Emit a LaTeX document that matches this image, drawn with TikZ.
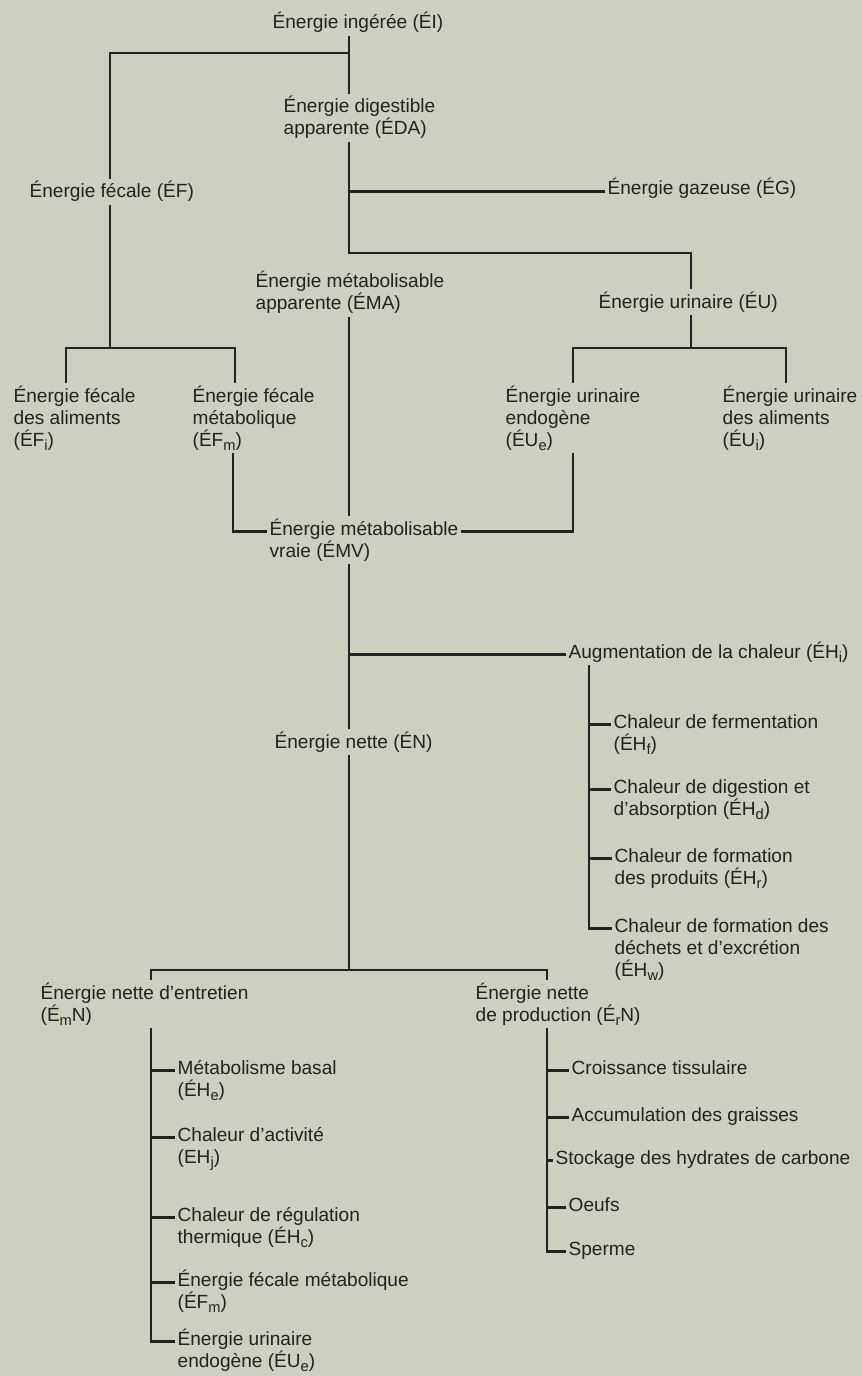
\documentclass[tikz,border=0pt]{standalone}
\usepackage{fontspec}
\setmainfont{Liberation Sans}
\usetikzlibrary{positioning}
\definecolor{paper}{RGB}{206,207,190}
\definecolor{ink}{RGB}{34,34,30}
\newcommand{\lowsub}[1]{\raisebox{-0.45ex}{\fontsize{11}{11}\selectfont #1}}

\begin{document}
\begin{tikzpicture}[x=0.75pt,y=-0.75pt,
  every node/.style={inner sep=0pt,outer sep=2pt,anchor=base west,align=left,
    text=ink,font=\fontsize{14.3}{16.5}\selectfont},
  line/.style={draw=ink,line width=1.6pt}]
\fill[paper] (0,0) rectangle (862,1376);
\useasboundingbox (0,0) rectangle (862,1376);
\node (ei) at (270,29) {Énergie ingérée (ÉI)};
\node (eda) at (281,135) {Énergie digestible\\apparente (ÉDA)};
\node (ef) at (27,198) {Énergie fécale (ÉF)};
\node (eg) at (605,195) {Énergie gazeuse (ÉG)};
\node (ema) at (253,310) {Énergie métabolisable\\apparente (ÉMA)};
\node (eu) at (596,308) {Énergie urinaire (ÉU)};
\node (efi) at (11,446) {Énergie fécale\\des aliments\\(ÉF\lowsub{i})};
\node (efm) at (190,446) {Énergie fécale\\métabolique\\(ÉF\lowsub{m})};
\node (eue) at (503,446) {Énergie urinaire\\endogène\\(ÉU\lowsub{e})};
\node (eui) at (720,446) {Énergie urinaire\\des aliments\\(ÉU\lowsub{i})};
\node (emv) at (267,557) {Énergie métabolisable\\vraie (ÉMV)};
\node (ehi) at (566,658) {Augmentation de la chaleur (ÉH\lowsub{i})};
\node (ehf) at (611,750) {Chaleur de fermentation\\(ÉH\lowsub{f})};
\node (ehd) at (611,815) {Chaleur de digestion et\\d’absorption (ÉH\lowsub{d})};
\node (ehr) at (612,884) {Chaleur de formation\\des produits (ÉH\lowsub{r})};
\node (ehw) at (612,976) {Chaleur de formation des\\déchets et d’excrétion\\(ÉH\lowsub{w})};
\node (en) at (272,748) {Énergie nette (ÉN)};
\node (emn) at (38,1021) {Énergie nette d’entretien\\(É\lowsub{m}N)};
\node (ern) at (473,1021) {Énergie nette\\de production (É\lowsub{r}N)};
\node (ehe) at (175,1096) {Métabolisme basal\\(ÉH\lowsub{e})};
\node (ehj) at (175,1163) {Chaleur d’activité\\(EH\lowsub{j})};
\node (ehc) at (175,1243) {Chaleur de régulation\\thermique (ÉH\lowsub{c})};
\node (efm2) at (175,1308) {Énergie fécale métabolique\\(ÉF\lowsub{m})};
\node (eue2) at (175,1367) {Énergie urinaire\\endogène (ÉU\lowsub{e})};
\node (cro) at (569,1074) {Croissance tissulaire};
\node (acc) at (569,1121) {Accumulation des graisses};
\node (sto) at (553,1164) {Stockage des hydrates de carbone};
\node (oeu) at (566,1211) {Oeufs};
\node (spe) at (566,1255) {Sperme};
\coordinate (t1) at (349,53);
\coordinate (t3) at (349,253);
\coordinate (f1) at (110,348);
\coordinate (f2) at (66,348);
\coordinate (f3) at (235,348);
\coordinate (u1) at (691,348);
\coordinate (u2) at (573,348);
\coordinate (u3) at (786,348);
\coordinate (m1) at (233,533);
\coordinate (m2) at (573,533);
\coordinate (h1) at (589,667);
\coordinate (t5) at (349,970);
\coordinate (n1) at (151,970);
\coordinate (n2) at (547,970);
\draw[line] (ei.south -| t1) -- (eda.north -| t1);
\draw[line] (t1) -| (ef.north -| f1);
\draw[line] (eda.south -| t3) -- (t3) -| (eu.north -| u1);
\draw[line] (eg.mid west -| t3) -- (eg.mid west);
\draw[line] (ef.south -| f1) -- (f1);
\draw[line] (efi.north -| f2) |- (f3) -- (efm.north -| f3);
\draw[line] (eu.south -| u1) -- (u1);
\draw[line] (eue.north -| u2) |- (u3) -- (eui.north -| u3);
\draw[line] (ema.south -| t3) -- (emv.north -| t3);
\draw[line] (efm.south -| m1) |- ([yshift=16.5pt]emv.mid west);
\draw[line] (eue.south -| m2) |- ([yshift=16.5pt]emv.mid east);
\draw[line] (emv.south -| t5) -- (en.north -| t5);
\draw[line] (ehi.mid west -| t5) -- (ehi.mid west);
\draw[line] (ehi.south -| h1) |- ([yshift=33pt]ehw.mid west);
\draw[line] ([yshift=16.5pt]ehf.mid west -| h1) edge ([yshift=16.5pt]ehf.mid west)
            ([yshift=16.5pt]ehd.mid west -| h1) edge ([yshift=16.5pt]ehd.mid west)
            ([yshift=16.5pt]ehr.mid west -| h1) edge ([yshift=16.5pt]ehr.mid west);
\draw[line] (en.south -| t5) -- (t5);
\draw[line] (emn.north -| n1) |- (n2) -- (ern.north -| n2);
\draw[line] (emn.south -| n1) |- ([yshift=16.5pt]eue2.mid west);
\draw[line] ([yshift=16.5pt]ehe.mid west -| n1) edge ([yshift=16.5pt]ehe.mid west)
            ([yshift=16.5pt]ehj.mid west -| n1) edge ([yshift=16.5pt]ehj.mid west)
            ([yshift=16.5pt]ehc.mid west -| n1) edge ([yshift=16.5pt]ehc.mid west)
            ([yshift=16.5pt]efm2.mid west -| n1) edge ([yshift=16.5pt]efm2.mid west);
\draw[line] (ern.south -| n2) |- (spe.mid west);
\draw[line] (cro.mid west -| n2) edge (cro.mid west)
            (acc.mid west -| n2) edge (acc.mid west)
            (sto.mid west -| n2) edge (sto.mid west)
            (oeu.mid west -| n2) edge (oeu.mid west);
\end{tikzpicture}
\end{document}
